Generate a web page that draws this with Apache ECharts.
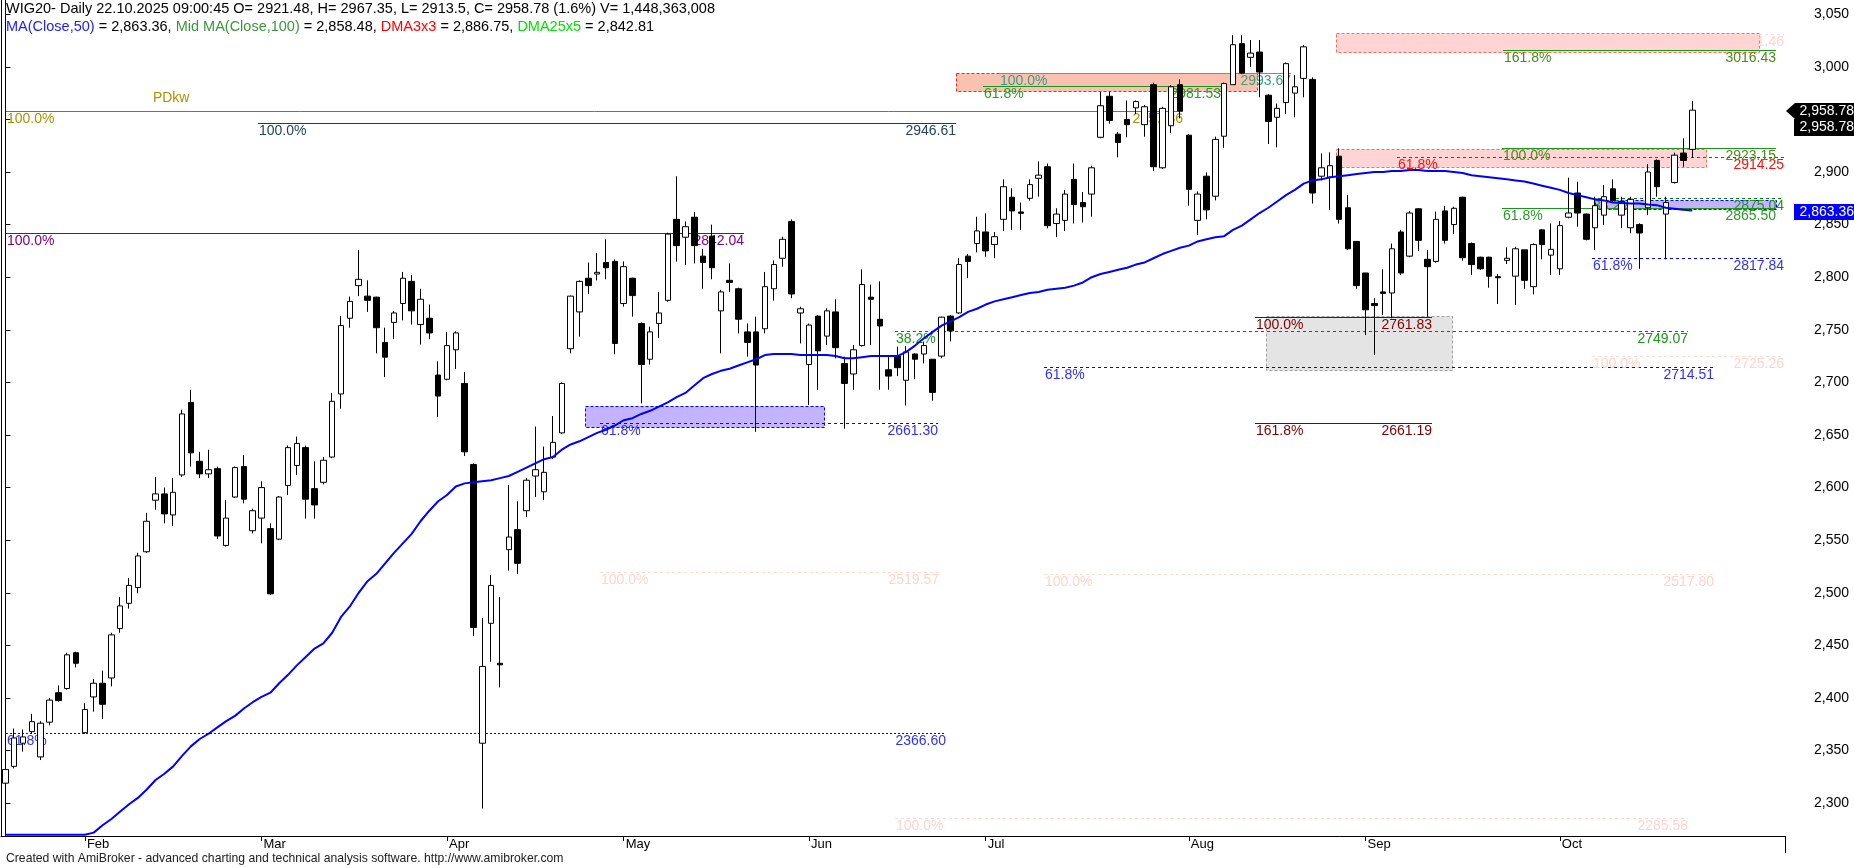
<!DOCTYPE html>
<html><head><meta charset="utf-8">
<script src="https://cdn.jsdelivr.net/npm/echarts@6/dist/echarts.min.js"></script>
<style>html,body{margin:0;padding:0;background:#fff}#c{width:1854px;height:868px}</style>
</head><body><div id="c"></div>
<script>
// ---------------- DATA ----------------
const holidays = ['2025-04-18','2025-04-21','2025-05-01','2025-06-19','2025-08-15'];
const monthNames = ['Jan','Feb','Mar','Apr','May','Jun','Jul','Aug','Sep','Oct','Nov','Dec'];
const opens = [2319,2335,2357,2368,2344,2377,2405,2409,2443,2367,
2401,2414,2419,2466,2490,2505,2539,2588,2594,2574,
2612,2681,2625,2613,2618,2545,2591,2620,2559,2571,
2561,2551,2602,2621,2638,2599,2605,2629,2689,2761,
2792,2782,2781,2738,2757,2775,2796,2755,2761,2707,
2703,2731,2699,2622,2357,2471,2433,2541,2560,2578,
2611,2596,2629,2652,2732,2767,2799,2803,2814,2815,
2775,2799,2756,2722,2756,2778,2855,2838,2857,2820,
2839,2768,2797,2789,2748,2748,2751,2789,2818,2853,
2766,2717,2763,2744,2767,2718,2708,2735,2781,2760,
2712,2725,2702,2727,2727,2722,2725,2763,2766,2820,
2832,2843,2831,2855,2876,2862,2875,2894,2905,2851,
2854,2893,2871,2879,2933,2972,2936,2950,2961,2945,
2983,2904,2944,2983,2935,2854,2896,2877,2934,2983,
3022,3009,3014,2973,2952,2966,2975,2989,2988,2896,
2895,2915,2866,2834,2804,2775,2786,2785,2843,2820,
2865,2817,2815,2863,2850,2876,2832,2819,2819,2800.5,
2816,2801,2826,2791,2845,2821,2808,2857,2880,2860,
2847,2859,2884,2859,2847,2850,2866,2911,2860,2890,
2918,2921.48];
const highs = [2333,2371,2370,2385,2378,2400,2412,2443,2444,2395,
2418,2426,2462,2496,2514,2538,2576,2610,2600,2609,
2674,2693,2634,2636,2620,2588,2620,2631,2580,2606,
2566,2592,2640,2648.5,2640,2625,2629,2690,2763,2781.5,
2826,2797,2781.5,2752,2768,2805,2802,2789,2774,2720,
2748,2748.5,2710,2623,2476,2517,2496,2602.5,2587,2609,
2658,2639,2668,2700,2782.5,2797,2814,2823,2836,2817,
2815,2799.5,2757,2753,2786,2842.3,2896,2853,2862,2827,
2850,2788,2813,2790,2756,2762.5,2805,2816,2838.5,2855,
2772,2756,2764,2770.4,2779,2724.5,2735.5,2807.5,2793,2796,
2724.5,2734,2734.6,2727.5,2738.7,2722,2762.5,2764,2818,2822,
2857.5,2860.7,2843,2893,2884.5,2871,2893,2910,2908,2865.5,
2883,2908,2881,2906,2976,2976.4,2938,2968,2968,2963.7,
2985,2962,2982.7,2988,2936,2881.5,2899.7,2933.6,2985,3030,
3030,3025.5,3025.5,2974,2965,3004,2992,3020.7,2990,2917.7,
2918.7,2922.5,2878,2834,2804,2780,2807.5,2832,2845,2863,
2865.5,2825.8,2862.3,2867.7,2867,2876.5,2833,2819.5,2819.5,2803,
2828.4,2829,2826,2832.2,2845.5,2851,2853.4,2894.6,2890.8,2860.5,
2876.5,2887.6,2893,2876.5,2876.5,2851.2,2907.6,2912,2876.5,2918.4,
2932,2967.35];
const lows = [2313,2333,2349,2366,2341,2374,2396.5,2408,2429,2366,
2387,2380,2411,2462,2485,2499.5,2538,2579,2566,2563.5,
2610,2620,2609,2609,2551,2544,2590,2585,2556.5,2547,
2498,2550,2593,2612,2570.5,2570.5,2603,2628,2675,2752,
2782,2767,2727.6,2705,2741,2759,2755,2736,2741,2667,
2702,2712.7,2630,2459,2295,2434.5,2410,2521,2518,2572,
2591,2588,2627,2651,2727.6,2743.5,2784,2797,2798,2726.7,
2772,2762.5,2680,2717,2742,2776.7,2814.8,2811.6,2813,2789,
2798,2727.6,2786,2746.6,2724.5,2653,2746.6,2777.7,2810,2780,
2737,2678.5,2693,2735.5,2722.8,2656,2693,2734,2735.5,2693,
2693,2706,2678,2703,2718,2682.6,2723,2739,2765,2799,
2823.6,2819.5,2818,2844,2845,2845,2872.8,2876.6,2846.5,2838,
2844,2851,2852,2857.5,2932,2946,2914,2933,2955,2933.6,
2901,2903,2937,2951,2868,2840,2855,2873,2923,2983,
2993,3000,2971,2926.6,2923.4,2955,2952,2971,2870,2892,
2864,2851,2826,2789,2745,2726,2764,2761,2802,2819,
2825,2762.5,2813.8,2832,2841,2815.7,2802,2806.8,2790,2774.5,
2812.5,2773.6,2789,2783.7,2817,2802,2802,2856,2848,2835,
2826,2849.6,2871,2846.5,2841.7,2808,2859,2876.5,2817,2889,
2905,2913.5];
const closes = [2332,2362,2363,2377.5,2376,2398,2397.5,2441,2433,2389,
2414,2394,2460,2487.5,2507,2535,2568,2594,2575,2595.5,
2670,2633,2613,2617,2554,2571,2619,2589,2578,2600,
2499,2591,2638,2642,2589,2583.5,2626,2682,2754,2777,
2798,2778,2752,2724,2766,2799,2768,2779,2747,2687,
2735,2747,2634,2467,2430,2507,2431.5,2553,2528,2607,
2617,2614.5,2643,2699,2782,2796,2792,2804.6,2809,2737,
2810,2782.5,2717,2748,2766,2841,2830,2848,2830,2814,
2809,2786,2795,2760,2738,2716.5,2791,2812,2836,2784,
2770,2754.5,2730,2768,2733,2699,2731,2793,2779,2753.6,
2706,2714,2729,2722,2735,2690.5,2762,2749,2812,2815,
2844,2825,2838.5,2886,2863,2860.7,2888,2897,2849,2860,
2879,2869,2867,2904,2963,2949,2928,2945,2967,2962,
2905,2960.5,2981,2958,2883.5,2879,2864,2931,2984,3021,
2994,3013,2995,2948,2960.5,3003,2981,3019,2880,2904,
2906,2855,2827,2792,2769,2773,2784.6,2827,2804,2861,
2835,2810,2855,2835,2865.5,2818.5,2812,2808,2801,2799.5,
2818,2827,2797,2831,2831,2826.5,2849,2861,2861,2836,
2868,2876.5,2873,2872,2874,2842,2900,2886,2871,2916,
2911,2958.78];
const ma50 = [2270,2270,2270,2270,2270,2270,2270,2270,2270,2270,
2272,2279,2285,2292,2299,2305,2313,2322,2328,2335,
2345,2354,2361,2366,2372,2378,2383,2390,2396,2401,
2405,2414,2422,2431,2439,2447,2452,2462,2477,2487,
2500,2511,2518,2528,2538,2547,2556,2568,2578,2587,
2593,2601,2604,2605,2606,2607,2609,2611,2615,2619,
2623,2627,2629,2636,2641,2644,2648,2652,2655,2659,
2664,2666,2670,2673,2677,2681,2686,2690,2697,2704,
2708,2711,2713,2716,2719,2722,2726,2727,2727,2727,
2726,2726,2726,2726,2725,2723,2723,2724,2725,2725,
2725,2725,2729,2735,2742,2748,2754,2758,2762,2767,
2770,2774,2777,2779,2781,2783,2785,2786,2788,2789,
2790,2792,2795,2800,2803,2805,2807,2809,2812,2814,
2818,2822,2825,2828,2830,2834,2836,2838,2839,2845,
2849,2855,2861,2866,2872,2878,2883,2889,2892,2893,
2895,2896,2897,2898,2899,2900,2900,2901,2901,2902,
2902,2901,2901,2901,2900,2899,2897,2896,2895,2894,
2893,2892,2891,2889,2887,2885,2883,2880,2878,2876,
2874,2873,2871,2870.5,2870,2870,2869,2868.5,2866,2865,
2864,2863.36];
const yTicks = [2300,2350,2400,2450,2500,2550,2600,2650,2700,2750,2800,2850,2900,2950,3000,3050];
const blankBars = 10;
const header1 = 'WIG20- Daily 22.10.2025 09:00:45 O= 2921.48, H= 2967.35, L= 2913.5, C= 2958.78 (1.6%) V= 1,448,363,008';
const legendVals = {ma50:'2,863.36', mid100:'2,858.48', dma3:'2,886.75', dma25:'2,842.81'};
const footer = 'Created with AmiBroker - advanced charting and technical analysis software. http://www.amibroker.com';
// levels: price, from bar, to bar, left text, right text, kind
const levels = [
 {price:2957.86, from:0.07, to:133.3, left:'100.0%', right:'2957.86', kind:'olive'},
 {price:2946.61, from:28.6, to:107.6, left:'100.0%', right:'2946.61', kind:'slate'},
 {price:2842.04, from:0.07, to:83.6, left:'100.0%', right:'2842.04', kind:'purple'},
 {price:2366.60, from:0.07, to:106.5, left:'61.8%', right:'2366.60', kind:'blueDot'},
 {price:2661.30, from:67.3, to:105.6, left:'61.8%', right:'2661.30', kind:'blueDash'},
 {price:2993.67, from:112.5, to:145.6, left:'100.0%', right:'2993.67', kind:'sea'},
 {price:2981.53, from:110.7, to:137.6, left:'61.8%', right:'2981.53', kind:'green'},
 {price:3031.46, from:157.8, to:201.4, left:'100.0%', right:'3031.46', kind:'faint'},
 {price:3016.43, from:169.6, to:200.5, left:'161.8%', right:'3016.43', kind:'oliveGreen'},
 {price:2914.25, from:157.6, to:201.4, left:'61.8%', right:'2914.25', kind:'red'},
 {price:2923.15, from:169.5, to:200.5, left:'100.0%', right:'2923.15', kind:'oliveGreen'},
 {price:2875.04, from:179.6, to:201.4, left:'38.2%', right:'2875.04', kind:'greenDash'},
 {price:2865.50, from:169.5, to:200.5, left:'61.8%', right:'2865.50', kind:'green'},
 {price:2817.84, from:179.6, to:201.4, left:'61.8%', right:'2817.84', kind:'blueDash'},
 {price:2761.83, from:141.5, to:161.5, left:'100.0%', right:'2761.83', kind:'maroon'},
 {price:2661.19, from:141.5, to:161.5, left:'161.8%', right:'2661.19', kind:'maroon'},
 {price:2749.07, from:100.7, to:190.5, left:'38.2%', right:'2749.07', kind:'greenDash'},
 {price:2714.51, from:117.6, to:193.5, left:'61.8%', right:'2714.51', kind:'blueDash'},
 {price:2725.26, from:179.6, to:201.4, left:'100.0%', right:'2725.26', kind:'faint'},
 {price:2519.57, from:67.3, to:105.7, left:'100.0%', right:'2519.57', kind:'faint'},
 {price:2517.80, from:117.6, to:193.5, left:'100.0%', right:'2517.80', kind:'faint'},
 {price:2285.58, from:100.7, to:190.5, left:'100.0%', right:'2285.58', kind:'faint'}
];
const notes = [{price:2957.86, at:16.7, text:'PDkw', kind:'olive'}];
const boxes = [
 {from:65.6, to:92.7, top:2678, bottom:2658.5, kind:'lavender'},
 {from:107.6, to:141.7, top:2993.8, bottom:2976.8, kind:'salmon'},
 {from:150.7, to:198.6, top:3032, bottom:3013.8, kind:'pink'},
 {from:150.7, to:192.6, top:2922, bottom:2905, kind:'pink'},
 {from:180, to:200.5, top:2873.5, bottom:2864.5, kind:'lavender'},
 {from:142.7, to:163.8, top:2763, bottom:2711.7, kind:'gray'}
];
// ---------------- STYLES ----------------
const FONT = '"Liberation Sans", Arial, sans-serif';
const levelStyles = {
 olive:{line:'#808000', text:'#a89400'},
 slate:{line:'#1e3c50', text:'#24465a'},
 purple:{line:'#800080', text:'#800080'},
 blueDot:{line:'#0000ff', text:'#3030ff', dash:[2,2]},
 blueDash:{line:'#0000ff', text:'#3030ff', dash:[3,3]},
 sea:{line:'#3cb371', text:'#3c9c80'},
 green:{line:'#1a961a', text:'#2a9a2a'},
 oliveGreen:{line:'#1a961a', text:'#4c8c1c'},
 greenDash:{line:'#008000', text:'#1a961a', dash:[3,3]},
 red:{line:'#ff0000', text:'#ff1010', dash:[3,3]},
 maroon:{line:'#800000', text:'#800000'},
 faint:{line:'#ffdcd4', text:'#ffd4cc', dash:[3,3]}
};
const boxStyles = {
 lavender:{fill:'#c4b4ff', stroke:'#0000ff'},
 salmon:{fill:'#f9c2b0', stroke:'#ff2020'},
 pink:{fill:'#ffd4d4', stroke:'#ff6a50'},
 gray:{fill:'#e4e4e4', stroke:'#a0a0a0'}
};
const GRID = {left:1, right:69, top:0, bottom:32};
const Y_MIN = 2268.8, Y_MAX = 3063.5;
const HFONT = '14.5px ' + FONT;

// ---------------- BUILD ----------------
function tradingDays(){
  const out=[]; let t=Date.UTC(2025,0,21); const end=Date.UTC(2025,9,22);
  while(t<=end){ const d=new Date(t); const wd=d.getUTCDay(); const s=d.toISOString().slice(0,10);
    if(wd!==0 && wd!==6 && holidays.indexOf(s)<0) out.push(s); t+=86400000; }
  return out;
}
const dates = tradingDays();
const categories = dates.concat(new Array(blankBars).fill(''));
const monthStart = categories.map((d,i)=> i>0 && !!d && !!categories[i-1] && d.slice(5,7)!==categories[i-1].slice(5,7));
const candleData = opens.map((o,i)=>[o, closes[i], lows[i], highs[i]]);

const chart = echarts.init(document.getElementById('c'));
const option = {
  animation:false, backgroundColor:'#fff',
  textStyle:{fontFamily:FONT},
  grid:{left:GRID.left, right:GRID.right, top:GRID.top, bottom:GRID.bottom},
  xAxis:[
    {type:'category', data:categories, boundaryGap:true,
     axisLine:{show:true, onZero:false, lineStyle:{color:'#000', width:1}},
     axisTick:{show:true, alignWithLabel:true, interval:(i)=>monthStart[i], length:5, lineStyle:{color:'#000'}},
     axisLabel:{show:true, interval:(i)=>monthStart[i], formatter:(v)=> v ? monthNames[+v.slice(5,7)-1] : '',
       align:'left', margin:2, color:'#000', fontSize:13, fontFamily:FONT, padding:[0,0,0,2]},
     splitLine:{show:false}},
    {type:'value', min:-0.5, max:categories.length-0.5, show:false}
  ],
  yAxis:[
    {type:'value', position:'right', min:Y_MIN, max:Y_MAX,
     axisLine:{show:true, lineStyle:{color:'#000'}},
     axisTick:{show:true, length:5, customValues:yTicks, lineStyle:{color:'#000'}},
     axisLabel:{show:true, customValues:yTicks, formatter:(v)=>Number(v).toLocaleString('en-US'), margin:29, color:'#000', fontSize:14, fontFamily:FONT},
     splitLine:{show:false}},
    {type:'value', position:'left', min:Y_MIN, max:Y_MAX,
     axisLine:{show:true, lineStyle:{color:'#000'}}, axisTick:{show:false}, axisLabel:{show:false}, splitLine:{show:false}}
  ],
  series:[
    {type:'custom', name:'boxes', xAxisIndex:1, yAxisIndex:0, z:1, silent:true,
     data:boxes.map(b=>[b.from,b.to,b.top,b.bottom]), encode:{x:[0,1], y:[2,3]},
     renderItem:(params, api)=>{
       const b=boxes[params.dataIndex]; const st=boxStyles[b.kind];
       const p1=api.coord([b.from,b.top]); const p2=api.coord([b.to,b.bottom]);
       return {type:'rect', shape:{x:Math.round(p1[0])+0.5, y:Math.round(p1[1])+0.5, width:Math.round(p2[0]-p1[0]), height:Math.round(p2[1]-p1[1])},
         style:{fill:st.fill, stroke:st.stroke, lineWidth:1, lineDash:[3,2]}};
     }},
    {type:'custom', name:'levels', xAxisIndex:1, yAxisIndex:0, z:2, silent:true,
     data:levels.map(l=>[l.from,l.to,l.price]), encode:{x:[0,1], y:2},
     renderItem:(params, api)=>{
       const L=levels[params.dataIndex]; const st=levelStyles[L.kind];
       const a=api.coord([L.from,L.price]); const b=api.coord([L.to,L.price]);
       const y=Math.round(a[1])+0.5;
       const ch=[{type:'line', shape:{x1:Math.round(a[0]), y1:y, x2:Math.round(b[0]), y2:y},
         style:{stroke:st.line, lineWidth:1, lineDash:st.dash||'solid'}}];
       ch.push({type:'text', style:{text:L.left, x:Math.round(a[0])+1, y:y+1, fill:st.text, font:'14px '+FONT, align:'left', verticalAlign:'top'}});
       ch.push({type:'text', style:{text:L.right, x:Math.round(b[0]), y:y+1, fill:st.text, font:'14px '+FONT, align:'right', verticalAlign:'top'}});
       return {type:'group', children:ch};
     }},
    {type:'custom', name:'notes', xAxisIndex:1, yAxisIndex:0, z:2, silent:true,
     data:notes.map(n=>[n.at,n.price]), encode:{x:0, y:1},
     renderItem:(params, api)=>{
       const n=notes[params.dataIndex]; const p=api.coord([n.at,n.price]);
       return {type:'text', style:{text:n.text, x:p[0], y:p[1]-6, fill:levelStyles[n.kind].text, font:'14px '+FONT, align:'left', verticalAlign:'bottom'}};
     }},
    {type:'candlestick', name:'WIG20', xAxisIndex:0, yAxisIndex:0, z:3, data:candleData, barWidth:6,
     itemStyle:{color:'#fff', color0:'#000', borderColor:'#000', borderColor0:'#000', borderColorDoji:'#000', borderWidth:1}},
    {type:'line', name:'MA50', xAxisIndex:0, yAxisIndex:0, z:4, data:ma50, symbol:'none', silent:true,
     lineStyle:{color:'#0000ff', width:2}}
  ]
};
chart.setOption(option);

// axis price markers and texts
const axisX = 1854 - GRID.right;
const last = closes.length-1;
const yC = Math.round(chart.convertToPixel({yAxisIndex:0}, closes[last])) + 1;
const yM = Math.round(chart.convertToPixel({yAxisIndex:0}, ma50[last])) + 1;
const fmt = (v)=>v.toLocaleString('en-US',{minimumFractionDigits:2, maximumFractionDigits:2});
const g = [
  {type:'text', left:6, top:1, z:100, style:{text:header1, font:HFONT, fill:'#000'}},
  {type:'text', left:6, top:19, z:100, style:{
     text:'{b|MA(Close,50)}{k| = '+legendVals.ma50+', }{g|Mid MA(Close,100)}{k| = '+legendVals.mid100+', }{r|DMA3x3}{k| = '+legendVals.dma3+', }{l|DMA25x5}{k| = '+legendVals.dma25+'}',
     font:HFONT, fill:'#000',
     rich:{b:{fill:'#2020ff', font:HFONT}, g:{fill:'#3c963c', font:HFONT}, r:{fill:'#ff0000', font:HFONT}, l:{fill:'#00e000', font:HFONT}, k:{fill:'#000', font:HFONT}}}},
  {type:'text', left:6, top:853, z:100, style:{text:footer, font:'12.2px '+FONT, fill:'#202020'}},
  {type:'line', z:100, shape:{x1:axisX+0.5, y1:868-GRID.bottom, x2:axisX+0.5, y2:853}, style:{stroke:'#000', lineWidth:1}},
  // blue MA marker
  {type:'rect', z:100, shape:{x:axisX+9, y:yM-8, width:1854-axisX-9, height:16}, style:{fill:'#0000ff'}},
  {type:'text', z:101, style:{text:fmt(ma50[last]), x:1854, y:yM, fill:'#fff', font:'14px '+FONT, align:'right', verticalAlign:'middle'}},
  // black close markers
  {type:'polygon', z:100, shape:{points:[[axisX+1,yC],[axisX+10,yC-8],[1854,yC-8],[1854,yC+8],[axisX+10,yC+8]]}, style:{fill:'#000'}},
  {type:'text', z:101, style:{text:fmt(closes[last]), x:1854, y:yC, fill:'#fff', font:'14px '+FONT, align:'right', verticalAlign:'middle'}},
  {type:'rect', z:100, shape:{x:axisX+9, y:yC+8, width:1854-axisX-9, height:17}, style:{fill:'#000'}},
  {type:'text', z:101, style:{text:fmt(closes[last]), x:1854, y:yC+16, fill:'#fff', font:'14px '+FONT, align:'right', verticalAlign:'middle'}}
];
chart.setOption({graphic:g});
</script></body></html>
